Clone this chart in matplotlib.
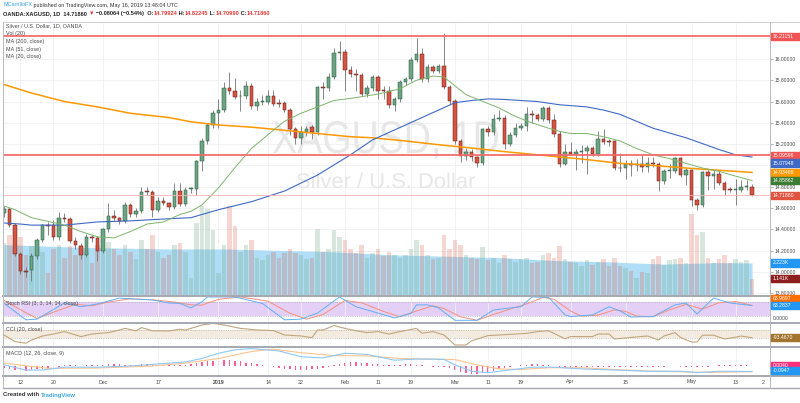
import numpy as np
import pandas as pd
import matplotlib
matplotlib.use('Agg')
import matplotlib.pyplot as plt
from matplotlib.patches import Rectangle, PathPatch
from matplotlib.lines import Line2D
from matplotlib.textpath import TextPath
from matplotlib.font_manager import FontProperties
from matplotlib.transforms import Affine2D, IdentityTransform
from matplotlib.ticker import FormatStrFormatter

W, H = 800, 403
FONT = 'Liberation Sans'
plt.rcParams['font.family'] = [FONT, 'DejaVu Sans']

# ── Data ─────────────────────────────────────────────────────────────────────
dates = pd.bdate_range('2018-11-07', '2019-05-16')

opens = [14.55, 14.59, 14.44, 14.17, 14.01, 14.02, 14.15, 14.30, 14.44, 14.44,
         14.33, 14.51, 14.50, 14.29, 14.24, 14.16, 14.33, 14.32, 14.20, 14.40,
         14.53, 14.51, 14.48, 14.63, 14.54, 14.57, 14.76, 14.75, 14.58, 14.67,
         14.65, 14.61, 14.76, 14.64, 14.775, 14.78, 15.04, 15.23, 15.38, 15.49,
         15.52, 15.73, 15.70, 15.65, 15.65, 15.75, 15.56, 15.60, 15.60, 15.65,
         15.59, 15.59, 15.52, 15.34, 15.26, 15.31, 15.36, 15.31, 15.74, 15.73,
         15.83, 16.06, 16.07, 15.90, 15.86, 15.85, 15.67, 15.73, 15.83, 15.71,
         15.70, 15.57, 15.62, 15.78, 15.81, 15.99, 16.05, 15.81, 15.92, 15.89,
         15.93, 15.74, 15.61, 15.23, 15.09, 15.13, 15.08, 15.02, 15.34, 15.31,
         15.44, 15.45, 15.20, 15.29, 15.35, 15.37, 15.48, 15.47, 15.44, 15.54,
         15.43, 15.30, 15.01, 15.13, 15.11, 15.13, 15.14, 15.16, 15.11, 15.25,
         15.23, 15.23, 14.98, 14.98, 15.01, 15.00, 15.01, 14.99, 15.02, 15.01,
         14.85, 14.95, 14.95, 15.07, 14.91, 14.96, 14.68, 14.63, 14.94, 14.90,
         14.92, 14.84, 14.78, 14.77, 14.77, 14.80, 14.79924]
highs = [14.62, 14.60, 14.46, 14.19, 14.05, 14.18, 14.32, 14.45, 14.47, 14.49,
         14.56, 14.55, 14.52, 14.33, 14.27, 14.36, 14.35, 14.34, 14.41, 14.65,
         14.58, 14.52, 14.66, 14.65, 14.60, 14.80, 14.80, 14.77, 14.70, 14.70,
         14.66, 14.84, 14.84, 14.80, 14.80, 15.05, 15.26, 15.40, 15.52, 15.62,
         15.78, 15.88, 15.82, 15.71, 15.79, 15.77, 15.63, 15.66, 15.71, 15.71,
         15.62, 15.61, 15.54, 15.36, 15.37, 15.37, 15.38, 15.75, 15.78, 15.87,
         16.10, 16.17, 16.09, 15.93, 15.91, 15.87, 15.76, 15.85, 15.85, 15.75,
         15.75, 15.64, 15.80, 15.83, 16.02, 16.20, 16.10, 15.95, 15.94, 15.95,
         16.24, 15.76, 15.62, 15.25, 15.16, 15.15, 15.09, 15.35, 15.37, 15.48,
         15.52, 15.47, 15.31, 15.40, 15.40, 15.55, 15.52, 15.49, 15.56, 15.56,
         15.48, 15.32, 15.20, 15.22, 15.15, 15.19, 15.19, 15.18, 15.32, 15.34,
         15.25, 15.24, 15.12, 15.05, 15.05, 15.06, 15.10, 15.08, 15.08, 15.03,
         14.97, 15.01, 15.08, 15.08, 14.98, 14.97, 14.69, 14.95, 14.96, 14.96,
         14.95, 14.85, 14.80, 14.87, 14.86, 14.86, 14.82245]
lows = [14.52, 14.42, 14.15, 13.98, 13.95, 13.92, 14.12, 14.28, 14.35, 14.30,
        14.30, 14.47, 14.27, 14.22, 14.12, 14.14, 14.28, 14.10, 14.18, 14.38,
        14.48, 14.45, 14.46, 14.52, 14.52, 14.55, 14.72, 14.52, 14.56, 14.63,
        14.58, 14.59, 14.62, 14.62, 14.74, 14.72, 14.95, 15.20, 15.35, 15.35,
        15.50, 15.67, 15.62, 15.51, 15.62, 15.53, 15.52, 15.57, 15.58, 15.56,
        15.55, 15.50, 15.29, 15.20, 15.20, 15.28, 15.25, 15.29, 15.62, 15.70,
        15.81, 15.99, 15.70, 15.83, 15.70, 15.65, 15.64, 15.70, 15.62, 15.62,
        15.54, 15.51, 15.60, 15.76, 15.79, 15.97, 15.78, 15.78, 15.87, 15.87,
        15.72, 15.58, 15.20, 15.03, 15.05, 15.04, 14.99, 15.00, 15.28, 15.29,
        15.42, 15.15, 15.18, 15.27, 15.33, 15.32, 15.40, 15.42, 15.42, 15.40,
        15.27, 14.99, 15.00, 15.10, 14.96, 15.02, 14.92, 15.09, 15.09, 15.20,
        15.18, 14.96, 14.94, 14.87, 14.90, 14.95, 14.94, 14.94, 14.99, 14.76,
        14.83, 14.88, 14.93, 14.89, 14.82, 14.62, 14.58, 14.61, 14.77, 14.78,
        14.82, 14.72, 14.75, 14.63, 14.75, 14.77, 14.70990]
closes = [14.59, 14.44, 14.17, 14.01, 14.00, 14.15, 14.30, 14.44, 14.43, 14.33,
          14.51, 14.50, 14.29, 14.25, 14.16, 14.33, 14.32, 14.20, 14.40, 14.53,
          14.51, 14.48, 14.63, 14.54, 14.57, 14.75, 14.75, 14.58, 14.67, 14.65,
          14.61, 14.76, 14.64, 14.77, 14.785, 15.04, 15.23, 15.38, 15.49, 15.52,
          15.73, 15.70, 15.64, 15.655, 15.75, 15.56, 15.60, 15.61, 15.65, 15.58,
          15.58, 15.52, 15.34, 15.26, 15.31, 15.34, 15.31, 15.74, 15.73, 15.83,
          16.06, 16.07, 15.90, 15.86, 15.85, 15.67, 15.73, 15.83, 15.70, 15.70,
          15.57, 15.62, 15.78, 15.81, 15.99, 16.05, 15.81, 15.92, 15.89, 15.93,
          15.74, 15.61, 15.23, 15.09, 15.13, 15.08, 15.02, 15.34, 15.31, 15.44,
          15.45, 15.20, 15.29, 15.35, 15.37, 15.48, 15.47, 15.44, 15.54, 15.43,
          15.30, 15.01, 15.13, 15.11, 15.13, 15.14, 15.16, 15.11, 15.25, 15.22,
          15.22, 14.98, 14.975, 15.01, 15.00, 15.01, 14.99, 15.02, 15.01, 14.85,
          14.95, 14.96, 15.07, 14.91, 14.96, 14.68, 14.63, 14.94, 14.90, 14.92,
          14.84, 14.77, 14.77, 14.78, 14.80, 14.81, 14.71860]
volume_k = [3.6, 4.2, 4.4, 4.0, 2.8, 3.4, 3.8, 3.0, 1.5, 3.2,
            3.5, 2.6, 3.4, 2.8, 3.5, 3.0, 2.2, 3.5, 3.9, 3.7,
            3.2, 2.8, 3.5, 3.0, 2.5, 3.8, 3.2, 4.2, 3.0, 2.6,
            2.8, 3.5, 3.6, 3.0, 1.2, 5.0, 6.2, 6.0, 4.5, 1.5,
            3.5, 6.2, 4.8, 3.0, 3.5, 3.8, 2.6, 2.4, 2.8, 3.0,
            2.6, 2.9, 3.2, 2.9, 2.8, 2.5, 2.6, 4.6, 3.0, 3.2,
            4.5, 4.0, 3.8, 3.2, 2.9, 3.5, 2.6, 2.9, 3.2, 2.7,
            3.0, 2.8, 2.6, 2.8, 3.2, 3.8, 3.5, 2.8, 2.5, 2.6,
            4.2, 3.2, 3.8, 3.5, 2.8, 2.6, 2.5, 3.3, 2.4, 2.6,
            2.2, 2.8, 2.5, 2.3, 2.5, 2.6, 2.2, 2.3, 2.8, 2.9,
            2.6, 3.4, 2.5, 2.3, 2.2, 2.0, 2.4, 2.1, 2.3, 2.5,
            2.0, 2.6, 2.0, 1.9, 1.7, 1.2, 1.6, 1.5, 2.5, 2.7,
            2.1, 2.4, 2.5, 2.6, 2.2, 5.6, 4.2, 4.4, 2.6, 2.2,
            2.5, 2.8, 2.2, 2.5, 2.3, 2.4, 1.141]
vol_ma_idx = [0, 15, 30, 40, 50, 60, 70, 80, 90, 100, 110, 120, 130, 136]
vol_ma_val = [3.5, 3.3, 3.2, 3.2, 3.1, 3.0, 2.8, 2.7, 2.6, 2.4, 2.3, 2.15, 2.25, 2.223]

ma200_idx = [0, 5, 11, 17, 23, 30, 34, 39, 45, 51, 57, 63, 67, 73, 79, 85, 91, 97,
             101, 106, 112, 118, 124, 130, 136]
ma200_val = [15.76, 15.68, 15.60, 15.55, 15.49, 15.45, 15.41, 15.38, 15.36, 15.33,
             15.30, 15.27, 15.26, 15.23, 15.195, 15.164, 15.13, 15.10, 15.08, 15.055,
             15.02, 15.0, 14.976, 14.955, 14.93488]
ma51_idx = [0, 3, 5, 11, 17, 23, 30, 34, 39, 45, 51, 57, 63, 67, 73, 79, 82, 85, 88,
            91, 97, 101, 106, 109, 112, 118, 124, 130, 133, 136]
ma51_val = [14.46, 14.45, 14.44, 14.44, 14.47, 14.48, 14.50, 14.51, 14.585, 14.66,
            14.76, 14.91, 15.10, 15.24, 15.38, 15.52, 15.59, 15.61, 15.625, 15.62,
            15.60, 15.57, 15.55, 15.52, 15.48, 15.35, 15.26, 15.15, 15.10, 15.07948]
ma20_idx = [0, 2, 5, 8, 11, 14, 17, 20, 23, 26, 29, 32, 34, 36, 39, 42, 45, 48, 51,
            54, 57, 60, 63, 68, 72, 75, 78, 80, 84, 90, 93, 96, 99, 101, 103, 106,
            109, 112, 115, 118, 121, 124, 127, 130, 133, 136]
ma20_val = [14.62, 14.585, 14.51, 14.475, 14.44, 14.38, 14.33, 14.32, 14.38, 14.45,
            14.47, 14.54, 14.57, 14.63, 14.79, 14.98, 15.16, 15.29, 15.415, 15.49,
            15.55, 15.61, 15.63, 15.67, 15.72, 15.80, 15.84, 15.83, 15.665, 15.54,
            15.46, 15.40, 15.35, 15.32, 15.30, 15.30, 15.27, 15.23, 15.16, 15.10,
            15.064, 15.02, 14.976, 14.945, 14.90, 14.85862]

stoch_k_idx = [0, 4, 6, 11, 14, 17, 21, 23, 27, 30, 32, 34, 36, 37, 42, 47, 51, 54,
               57, 61, 64, 68, 71, 74, 75, 77, 79, 80, 82, 86, 89, 91, 94, 96, 99,
               100, 102, 103, 107, 110, 112, 114, 118, 122, 124, 126, 129, 132, 136]
stoch_k_val = [73, 2, 5, 74, 58, 70, 95, 92, 87, 74, 72, 53, 80, 100, 100, 72, 2, 5,
               31, 100, 58, 31, 10, 30, 66, 66, 53, 35, 0, 0, 44, 50, 58, 100, 98,
               74, 23, 16, 23, 58, 40, 14, 16, 66, 74, 27, 95, 74, 63.2837]
stoch_d_idx = [0, 3, 6, 9, 13, 16, 19, 23, 27, 31, 34, 36, 39, 43, 48, 52, 55, 58,
               62, 65, 69, 72, 75, 78, 80, 83, 86, 89, 92, 95, 98, 100, 103, 105,
               108, 111, 113, 115, 118, 121, 124, 127, 130, 133, 136]
stoch_d_val = [85, 45, 8, 35, 68, 62, 78, 92, 88, 78, 66, 65, 90, 100, 82, 30, 5, 25,
               85, 75, 38, 15, 40, 62, 50, 15, 0, 25, 48, 70, 98, 90, 40, 18, 22,
               45, 38, 18, 15, 45, 68, 48, 75, 80, 63.9697]

cci_idx = [0, 2, 4, 5, 7, 9, 11, 14, 16, 19, 21, 22, 24, 25, 27, 30, 32, 33, 36, 38,
           40, 43, 46, 49, 51, 54, 56, 57, 58, 60, 62, 64, 66, 68, 70, 72, 75, 76,
           78, 80, 82, 84, 85, 86, 88, 90, 93, 95, 97, 99, 100, 102, 103, 107, 108,
           110, 111, 114, 117, 119, 120, 122, 123, 125, 126, 127, 129, 131, 133,
           134, 136]
cci_val = [-25, -190, -230, -150, -50, 0, 60, -65, 0, 35, 100, 140, 80, 160, 80, 75,
           120, 100, 225, 265, 225, 140, 100, 85, -25, -50, -90, 100, 100, 210, 140,
           80, 35, 60, 0, 60, 140, 20, 60, -25, -275, -275, -170, -130, -40, -25, 0,
           15, 60, 80, 15, -120, -65, -65, 0, 0, -125, -85, -50, -150, -50, 35, -85,
           -200, -200, -30, -30, -125, -80, -50, -93.467]

macd_idx = [0, 4, 7, 11, 17, 23, 30, 33, 36, 39, 42, 45, 50, 54, 58, 62, 66, 71, 75,
            80, 82, 85, 88, 91, 96, 100, 105, 111, 117, 123, 126, 130, 136]
macd_val = [0.02, -0.07, -0.07, -0.02, -0.02, 0.0, 0.05, 0.07, 0.13, 0.22, 0.28,
            0.30, 0.26, 0.16, 0.14, 0.22, 0.20, 0.10, 0.12, 0.115, 0.02, -0.09,
            -0.115, -0.08, -0.02, -0.02, -0.05, -0.07, -0.09, -0.09, -0.115, -0.09,
            -0.0947]
signal_idx = [0, 8, 17, 27, 33, 39, 45, 49, 54, 60, 66, 72, 78, 82, 86, 90, 94, 99,
              105, 111, 117, 123, 129, 136]
signal_val = [0.05, -0.04, -0.035, 0.0, 0.05, 0.13, 0.25, 0.29, 0.23, 0.18, 0.175,
              0.13, 0.12, 0.11, 0.02, -0.05, -0.06, -0.03, -0.03, -0.06, -0.085,
              -0.10, -0.11, -0.0987]
macd_hist = [-0.03, -0.05, -0.07, -0.08, -0.08, -0.07, -0.06, -0.05, -0.04, -0.02,
             -0.01, 0.01, 0.02, 0.01, 0.0, 0.01, 0.01, 0.01, 0.02, 0.03,
             0.03, 0.03, 0.02, 0.02, 0.02, 0.03, 0.03, 0.02, 0.02, 0.02,
             0.02, 0.02, 0.02, 0.02, 0.03, 0.05, 0.07, 0.08, 0.09, 0.09,
             0.10, 0.10, 0.09, 0.08, 0.06, 0.05, 0.03, 0.02, 0.0, -0.02,
             -0.03, -0.05, -0.06, -0.07, -0.07, -0.07, -0.06, -0.05, -0.03, -0.01,
             0.01, 0.04, 0.06, 0.07, 0.07, 0.06, 0.05, 0.04, 0.03, 0.02,
             0.01, 0.01, 0.02, 0.03, 0.03, 0.02, 0.02, 0.0, -0.01, -0.01,
             -0.02, -0.03, -0.07, -0.10, -0.12, -0.13, -0.13, -0.12, -0.10, -0.08,
             -0.05, -0.03, -0.02, 0.0, 0.01, 0.02, 0.03, 0.03, 0.02, 0.01,
             0.0, -0.01, -0.02, -0.02, -0.02, -0.02, -0.02, -0.01, -0.01, -0.01,
             -0.01, -0.01, -0.02, -0.02, -0.02, -0.01, -0.01, -0.01, -0.01, -0.01,
             -0.01, 0.0, 0.0, -0.01, -0.01, -0.02, -0.02, -0.02, -0.01, 0.0,
             0.01, 0.01, 0.01, 0.01, 0.01, 0.01, 0.004]

tick_dates = ['2018-11-12', '2018-11-20', '2018-12-03', '2018-12-17', '2019-01-01',
              '2019-01-14', '2019-01-22', '2019-02-01', '2019-02-11', '2019-02-19',
              '2019-03-01', '2019-03-11', '2019-03-19', '2019-04-01', '2019-04-15',
              '2019-05-01', '2019-05-13']
tick_labels = ['12', '20', 'Dec', '17', '2019', '14', '22', 'Feb', '11', '19',
               'Mar', '11', '19', 'Apr', '15', 'May', '13']
price_ticks = [13.8, 14.0, 14.2, 14.4, 14.6, 14.8, 15.2, 15.4, 15.6, 15.8, 16.0]
levels = [16.21151, 15.09596]

# ── Helpers ──────────────────────────────────────────────────────────────────
def rect(x0, y0, x1, y1):
    return [x0 / W, 1 - y1 / H, (x1 - x0) / W, (y1 - y0) / H]

fig = plt.figure(figsize=(W / 100, H / 100), dpi=100)
fig.patch.set_facecolor('white')
renderer = fig.canvas.get_renderer()

idx = np.arange(len(dates))
o, h, l, c = map(np.array, (opens, highs, lows, closes))
XL = (-0.18, 139.27)
tick_pos = [dates.get_loc(pd.Timestamp(d)) for d in tick_dates]
GRID = '#eef0f4'
TXT = '#4a4a4a'

def clean(a):
    a.set_xlim(*XL)
    a.set_xticks([])
    a.set_yticks([])
    for s in a.spines.values():
        s.set_visible(False)

def hline_px(y, x0=3, x1=800, color='#a5a8b0', lw=1.4):
    fig.add_artist(Line2D([x0 / W, x1 / W], [1 - y / H, 1 - y / H],
                          transform=fig.transFigure, color=color, lw=lw, zorder=10))

def tag(a, value, text, bg, dy=0, fg='white'):
    y = a.transData.transform((0, value))[1] - dy
    fig.add_artist(Rectangle((771 / W, (y - 3.7) / H), 29 / W, 7.4 / H,
                             transform=fig.transFigure, color=bg, zorder=11))
    fig.text(773 / W, y / H, text, color=fg, fontsize=3.7, va='center',
             ha='left', zorder=12)

def run_text(x_px, y_px, parts, size, weight='normal'):
    x = x_px
    for s, col in parts:
        t = fig.text(x / W, 1 - y_px / H, s, color=col, fontsize=size,
                     fontweight=weight, va='center', ha='left')
        x = t.get_window_extent(renderer=renderer).x1

def watermark(text, x0, x1, base, cap, color, ref):
    prop = FontProperties(family=FONT)
    tp = TextPath((0, 0), text, size=100, prop=prop)
    rp = TextPath((0, 0), ref, size=100, prop=prop)
    ext = tp.get_extents()
    sx = (x1 - x0) / ext.width
    sy = cap / rp.get_extents().y1
    tr = Affine2D().translate(-ext.x0, 0).scale(sx, sy).translate(x0, H - base)
    fig.add_artist(PathPatch(tr.transform_path(tp), transform=IdentityTransform(),
                             color=color, lw=0, zorder=0.5))

# ── Main pane ────────────────────────────────────────────────────────────────
main_rect = rect(3, 22, 770, 295)
ax_bg = fig.add_axes(main_rect, zorder=0)
ax_vol = fig.add_axes(main_rect, zorder=1)
ax = fig.add_axes(main_rect, zorder=2)
for a in (ax_bg, ax_vol, ax):
    clean(a)
ax_vol.patch.set_alpha(0)
ax.patch.set_alpha(0)
PY = (13.784, 16.347)
ax_bg.set_ylim(*PY)
ax.set_ylim(*PY)
ax_vol.set_ylim(0, 18.96)

ax_bg.vlines(tick_pos, *PY, color=GRID, lw=0.6)
ax_bg.hlines(price_ticks + [15.0, 16.2], *XL, color=GRID, lw=0.6)

watermark('XAGUSD, 1D', 273, 498, 153, 32, '#e7e7e7', 'XAGUSD')
watermark('Silver / U.S. Dollar', 297, 475, 188, 15, '#e7e7e7', 'S')

# volume: MA area underneath, translucent bars on top
vol = np.array(volume_k)
up = c >= o
ax_vol.fill_between(vol_ma_idx, 0, vol_ma_val, color='#a8dbf6', alpha=0.9, lw=0)
ax_vol.bar(idx[up], vol[up], width=0.8, color='#6ba583', alpha=0.26, lw=0)
ax_vol.bar(idx[~up], vol[~up], width=0.8, color='#d75442', alpha=0.24, lw=0)

# candles
ax.vlines(idx, l, h, color='#737375', lw=0.6, zorder=2)
bot = np.minimum(o, c)
ht = np.maximum(np.abs(c - o), 0.006)
ax.bar(idx[up], ht[up], bottom=bot[up], width=0.64, color='#6ba583',
       edgecolor='#225437', lw=0.35, zorder=3)
ax.bar(idx[~up], ht[~up], bottom=bot[~up], width=0.64, color='#d75442',
       edgecolor='#5b1a13', lw=0.35, zorder=3)

ax.plot(ma200_idx, ma200_val, color='#ff9800', lw=1.1, zorder=4)
ax.plot(ma51_idx, ma51_val, color='#3f69c6', lw=0.8, zorder=4)
ax.plot(ma20_idx, ma20_val, color='#7db56b', lw=0.7, zorder=4)
ax.hlines(levels, *XL, color='#f46a6a', lw=1.4, alpha=0.9, zorder=5)
ax.hlines(closes[-1], *XL, color='#f7b3b3', lw=0.6, zorder=5)

# right price scale
ax.yaxis.tick_right()
ax.set_yticks(price_ticks)
ax.yaxis.set_major_formatter(FormatStrFormatter('%.5f'))
ax.tick_params(axis='y', labelsize=3.6, length=2, width=0.5, color='#9a9a9a',
               labelcolor=TXT, pad=1.5)

legend_lines = ['Silver / U.S. Dollar, 1D, OANDA', 'Vol (20)', 'MA (200, close)',
                'MA (51, close)', 'MA (20, close)']
for k, s in enumerate(legend_lines):
    fig.text(6 / W, 1 - (26 + 7.7 * k) / H, s, fontsize=3.9, color=TXT, va='center')

# ── Stoch RSI ────────────────────────────────────────────────────────────────
ax_st = fig.add_axes(rect(3, 296, 770, 322))
clean(ax_st)
ax_st.set_ylim(-7.3, 104)
ax_st.vlines(tick_pos, -7.3, 104, color=GRID, lw=0.6)
ax_st.fill_between(XL, 20, 80, color='#e4cff7', lw=0)
ax_st.hlines([20, 80], *XL, color='#a0a0a0', lw=0.4, linestyles=(0, (2, 2)))
ax_st.plot(stoch_d_idx, stoch_d_val, color='#f5907a', lw=0.7)
ax_st.plot(stoch_k_idx, stoch_k_val, color='#5fb0f6', lw=0.7)
fig.text(6 / W, 1 - 303 / H, 'Stoch RSI (3, 3, 14, 14, close)', fontsize=3.9,
         color=TXT, va='center')

# ── CCI ──────────────────────────────────────────────────────────────────────
ax_cci = fig.add_axes(rect(3, 323, 770, 346))
clean(ax_cci)
ax_cci.set_ylim(-300, 275)
ax_cci.vlines(tick_pos, -300, 275, color=GRID, lw=0.6)
ax_cci.fill_between(XL, -100, 100, color='#f3ebe0', lw=0)
ax_cci.hlines([-100, 100], *XL, color='#b0a090', lw=0.4, linestyles=(0, (2, 2)))
ax_cci.plot(cci_idx, cci_val, color='#c2a57c', lw=0.8)
fig.text(6 / W, 1 - 330 / H, 'CCI (20, close)', fontsize=3.9, color=TXT, va='center')

# ── MACD ─────────────────────────────────────────────────────────────────────
ax_m = fig.add_axes(rect(3, 347, 770, 375))
clean(ax_m)
ax_m.set_ylim(-0.155, 0.328)
ax_m.vlines(tick_pos, -0.155, 0.328, color=GRID, lw=0.6)
ax_m.bar(idx, macd_hist, width=0.25, color='#ff5c93', lw=0)
ax_m.plot(signal_idx, signal_val, color='#ffc38c', lw=0.8)
ax_m.plot(macd_idx, macd_val, color='#8cc8f8', lw=0.8)
fig.text(6 / W, 1 - 354 / H, 'MACD (12, 26, close, 9)', fontsize=3.9, color=TXT,
         va='center')

# date labels
for p, s in zip(tick_pos, tick_labels):
    x = ax_m.transData.transform((p, 0))[0]
    fig.text(x / W, 1 - 382 / H, s, fontsize=3.8, color=TXT, ha='center',
             va='center', fontweight='bold' if s == '2019' else 'normal')
x = ax_m.transData.transform((len(dates) + 1, 0))[0]
fig.text(x / W, 1 - 382 / H, '2', fontsize=3.8, color=TXT, ha='center', va='center')

# ── Frame / separators ───────────────────────────────────────────────────────
hline_px(22, color='#c8cad0', lw=0.6)
for y in (295.5, 322.5, 346.5, 375.5):
    hline_px(y)
hline_px(387.5, color='#a5a8b0', lw=1.0)
for xv in (3, 770):
    fig.add_artist(Line2D([xv / W, xv / W], [1 - 387.5 / H, 1 - 22 / H],
                          transform=fig.transFigure, color='#b8bac0', lw=0.7, zorder=10))

# ── Value tags on the right scale ────────────────────────────────────────────
tag(ax, 16.21151, '16.21151', '#f05454')
tag(ax, 15.09596, '15.09596', '#f05454')
tag(ax, 15.07948, '15.07948', '#3f69c6', dy=6)
tag(ax, 14.93488, '14.93488', '#ff9800')
tag(ax, 14.85862, '14.85862', '#3b7d33')
tag(ax, 14.71860, '14.71860', '#e0533f')
tag(ax_vol, 2.223, '2.223K', '#2196f3')
tag(ax_vol, 1.141, '1.141K', '#8e1f1f')
tag(ax_st, 63.2837, '63.9697', '#ff6d00', dy=-7)
tag(ax_st, 63.2837, '63.2837', '#2196f3')
fig.text(773 / W, 1 - 319 / H, '0.0000', fontsize=3.6, color=TXT, va='center')
tag(ax_cci, -93.467, '-93.4670', '#a3742c')
tag(ax_m, 0.004, '0.0040', '#ff2e7a')
tag(ax_m, -0.0947, '-0.0947', '#2196f3', dy=-1)

# ── Header & footer ──────────────────────────────────────────────────────────
run_text(3, 5, [('MCarrilloFX', '#2e9be6'),
                (' published on TradingView.com, May 16, 2019 13:48:04 UTC', '#333333')],
         3.9)
RED = '#e53935'
run_text(3, 13.5, [('OANDA:XAGUSD, 1D  14.71860 ', '#222222'), ('\u25bc', RED),
                   (' \u22120.08064 (\u22120.54%)  O:', '#222222'), ('14.79924', RED),
                   (' H:', '#222222'), ('14.82245', RED), (' L:', '#222222'),
                   ('14.70990', RED), (' C:', '#222222'), ('14.71860', RED)],
         4.1, weight='bold')
run_text(3, 395, [('Created with ', '#333333'), ('TradingView', '#3ba7e0')], 4.3,
         weight='bold')

fig.savefig('out.png', dpi=100, facecolor='white')
